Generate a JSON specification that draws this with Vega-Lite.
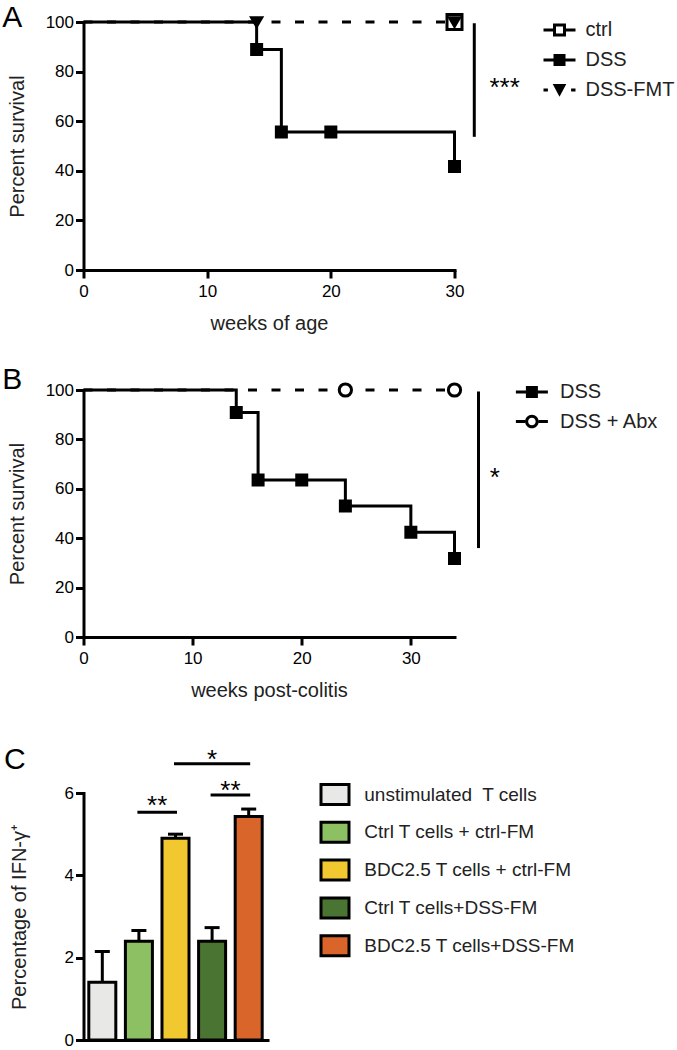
{
  "$schema": "https://vega.github.io/schema/vega-lite/v6.json",
  "padding": {"left": 1.5, "top": 2, "right": 5, "bottom": 5},
  "background": "white",
  "config": {
    "font": "Liberation Sans",
    "view": {"stroke": null},
    "axis": {
      "domainColor": "black", "domainWidth": 3, "domainCap": "square",
      "tickColor": "black", "tickWidth": 3, "tickSize": 8,
      "labelFontSize": 17, "labelColor": "black", "labelFont": "Liberation Sans",
      "labelFlush": false, "labelOverlap": false,
      "titleFontSize": 20, "titleFontWeight": "normal", "titleColor": "#222", "titleFont": "Liberation Sans",
      "grid": false
    },
    "axisX": {"labelPadding": 5, "titlePadding": 14},
    "axisY": {"labelPadding": 2, "titlePadding": 18},
    "legend": {"title": null, "padding": 0, "labelFontSize": 20, "labelColor": "#222", "labelFont": "Liberation Sans", "orient": "none", "labelLimit": 400, "symbolOpacity": 1},
    "title": {"anchor": "start", "frame": "bounds", "fontSize": 30, "fontWeight": "normal", "font": "Liberation Sans", "color": "black", "baseline": "alphabetic", "dx": -5},
    "text": {"font": "Liberation Sans"}
  },
  "resolve": {
    "scale": {"shape": "independent", "fill": "independent", "size": "independent"},
    "legend": {"shape": "independent", "fill": "independent", "size": "independent"}
  },
  "datasets": {
    "survA": [
      {"group": "DSS", "week": 0, "pct": 100},
      {"group": "DSS", "week": 14, "pct": 88.9},
      {"group": "DSS", "week": 16, "pct": 55.6},
      {"group": "DSS", "week": 30, "pct": 41.7},
      {"group": "DSS-FMT", "week": 0, "pct": 100},
      {"group": "DSS-FMT", "week": 30, "pct": 100}
    ],
    "marksA": [
      {"group": "ctrl", "week": 30, "pct": 100},
      {"group": "DSS", "week": 14, "pct": 88.9},
      {"group": "DSS", "week": 16, "pct": 55.6},
      {"group": "DSS", "week": 20, "pct": 55.6},
      {"group": "DSS", "week": 30, "pct": 41.7},
      {"group": "DSS-FMT", "week": 14, "pct": 100},
      {"group": "DSS-FMT", "week": 30, "pct": 100}
    ],
    "sigA": [{"x": 31.6, "top": 99.5, "bottom": 53.7, "label": "***", "tx": 34.05, "ty": 75.9}],
    "survB": [
      {"group": "DSS", "week": 0, "pct": 100},
      {"group": "DSS", "week": 14, "pct": 90.9},
      {"group": "DSS", "week": 16, "pct": 63.6},
      {"group": "DSS", "week": 24, "pct": 53.0},
      {"group": "DSS", "week": 30, "pct": 42.4},
      {"group": "DSS", "week": 34, "pct": 31.8},
      {"group": "DSS + Abx", "week": 0, "pct": 100},
      {"group": "DSS + Abx", "week": 34, "pct": 100}
    ],
    "marksB": [
      {"group": "DSS", "week": 14, "pct": 90.9},
      {"group": "DSS", "week": 16, "pct": 63.6},
      {"group": "DSS", "week": 20, "pct": 63.6},
      {"group": "DSS", "week": 24, "pct": 53.0},
      {"group": "DSS", "week": 30, "pct": 42.4},
      {"group": "DSS", "week": 34, "pct": 31.8},
      {"group": "DSS + Abx", "week": 24, "pct": 100},
      {"group": "DSS + Abx", "week": 34, "pct": 100}
    ],
    "sigB": [{"x": 36.2, "top": 99.4, "bottom": 36.0, "label": "*", "tx": 37.7, "ty": 67.0}],
    "barsC": [
      {"group": "unstimulated\u00a0 T cells", "mean": 1.4, "upper": 2.15},
      {"group": "Ctrl T cells + ctrl-FM", "mean": 2.4, "upper": 2.66},
      {"group": "BDC2.5 T cells + ctrl-FM", "mean": 4.9, "upper": 5.0},
      {"group": "Ctrl T cells+DSS-FM", "mean": 2.4, "upper": 2.73},
      {"group": "BDC2.5 T cells+DSS-FM", "mean": 5.43, "upper": 5.61}
    ],
    "sigC": [
      {"from": "Ctrl T cells + ctrl-FM", "to": "BDC2.5 T cells + ctrl-FM", "level": 5.53},
      {"from": "Ctrl T cells+DSS-FM", "to": "BDC2.5 T cells+DSS-FM", "level": 5.95},
      {"from": "BDC2.5 T cells + ctrl-FM", "to": "BDC2.5 T cells+DSS-FM", "level": 6.71}
    ],
    "starsBetween": [
      {"at": "Ctrl T cells + ctrl-FM", "level": 5.82, "label": "**"},
      {"at": "Ctrl T cells+DSS-FM", "level": 6.2, "label": "**"}
    ],
    "starsCenter": [
      {"at": "Ctrl T cells+DSS-FM", "level": 6.95, "label": "*"}
    ]
  },
  "spacing": 31,
  "vconcat": [
    {
      "width": 371, "height": 248,
      "title": {"text": "A", "offset": -24},
      "layer": [
        {
          "data": {"name": "survA"},
          "transform": [{"filter": "datum.group === 'DSS-FMT'"}],
          "mark": {"type": "line", "interpolate": "step-after", "strokeDash": [9, 14.5], "strokeWidth": 3, "color": "black"},
          "encoding": {
            "x": {"field": "week", "type": "quantitative", "scale": {"domain": [0, 30], "nice": false}, "axis": {"title": "weeks of age", "values": [0, 10, 20, 30]}},
            "y": {"field": "pct", "type": "quantitative", "scale": {"domain": [0, 100], "nice": false}, "axis": {"title": "Percent survival", "values": [0, 20, 40, 60, 80, 100]}}
          }
        },
        {
          "data": {"name": "survA"},
          "transform": [{"filter": "datum.group === 'DSS'"}],
          "mark": {"type": "line", "interpolate": "step-after", "strokeWidth": 3, "color": "black"},
          "encoding": {
            "x": {"field": "week", "type": "quantitative"},
            "y": {"field": "pct", "type": "quantitative"}
          }
        },
        {
          "data": {"name": "marksA"},
          "transform": [{"filter": "datum.group === 'ctrl'"}],
          "mark": {"type": "point", "shape": "square", "filled": true, "fill": "white", "stroke": "black", "strokeWidth": 3, "size": 225, "opacity": 1},
          "encoding": {
            "x": {"field": "week", "type": "quantitative"},
            "y": {"field": "pct", "type": "quantitative"}
          }
        },
        {
          "data": {"name": "marksA"},
          "transform": [{"filter": "datum.group === 'DSS'"}],
          "mark": {"type": "point", "shape": "square", "filled": true, "fill": "black", "stroke": "black", "strokeWidth": 3, "size": 100, "opacity": 1},
          "encoding": {
            "x": {"field": "week", "type": "quantitative"},
            "y": {"field": "pct", "type": "quantitative"}
          }
        },
        {
          "data": {"name": "marksA"},
          "transform": [{"filter": "datum.group === 'DSS-FMT'"}],
          "mark": {"type": "point", "shape": "triangle-down", "filled": true, "fill": "black", "stroke": "black", "strokeWidth": 3, "size": 100, "opacity": 1},
          "encoding": {
            "x": {"field": "week", "type": "quantitative"},
            "y": {"field": "pct", "type": "quantitative"}
          }
        },
        {
          "data": {"name": "marksA"},
          "transform": [{"filter": "datum.week < 0"}],
          "mark": {"type": "point", "filled": true, "color": "black", "strokeWidth": 0, "size": 256, "opacity": 1},
          "encoding": {
            "x": {"field": "week", "type": "quantitative"},
            "y": {"field": "pct", "type": "quantitative"},
            "shape": {"field": "group", "type": "nominal",
              "scale": {"domain": ["ctrl", "DSS", "DSS-FMT"], "range": [
                "M-2,-0.19H-0.81V0.19H-2ZM0.81,-0.19H2V0.19H0.81ZM-0.81,-0.81H0.81V0.81H-0.81ZM-0.44,-0.44V0.44H0.44V-0.44Z",
                "M-2,-0.19H2V0.19H-2ZM-0.75,-0.75H0.75V0.75H-0.75Z",
                "M-2,-0.19H-1.45V0.19H-2ZM1.45,-0.19H2V0.19H1.45ZM-0.85,-0.75H0.85L0,0.85Z"]},
              "legend": {"legendX": 466, "legendY": -2, "symbolSize": 256, "rowPadding": 10, "labelOffset": 16, "symbolFillColor": "black", "symbolStrokeWidth": 0}}
          }
        },
        {
          "data": {"name": "sigA"},
          "mark": {"type": "rule", "strokeWidth": 3, "color": "black"},
          "encoding": {
            "x": {"field": "x", "type": "quantitative"},
            "y": {"field": "top", "type": "quantitative"},
            "y2": {"field": "bottom"}
          }
        },
        {
          "data": {"name": "sigA"},
          "mark": {"type": "text", "fontSize": 26, "baseline": "middle", "align": "center", "dy": 6, "color": "black"},
          "encoding": {
            "x": {"field": "tx", "type": "quantitative"},
            "y": {"field": "ty", "type": "quantitative"},
            "text": {"field": "label"}
          }
        }
      ]
    },
    {
      "width": 371, "height": 247,
      "title": {"text": "B", "offset": -17},
      "layer": [
        {
          "data": {"name": "survB"},
          "transform": [{"filter": "datum.group === 'DSS + Abx'"}],
          "mark": {"type": "line", "interpolate": "step-after", "strokeDash": [9, 14.5], "strokeWidth": 3, "color": "black"},
          "encoding": {
            "x": {"field": "week", "type": "quantitative", "scale": {"domain": [0, 34], "nice": false}, "axis": {"title": "weeks post-colitis", "values": [0, 10, 20, 30]}},
            "y": {"field": "pct", "type": "quantitative", "scale": {"domain": [0, 100], "nice": false}, "axis": {"title": "Percent survival", "values": [0, 20, 40, 60, 80, 100]}}
          }
        },
        {
          "data": {"name": "survB"},
          "transform": [{"filter": "datum.group === 'DSS'"}],
          "mark": {"type": "line", "interpolate": "step-after", "strokeWidth": 3, "color": "black"},
          "encoding": {
            "x": {"field": "week", "type": "quantitative"},
            "y": {"field": "pct", "type": "quantitative"}
          }
        },
        {
          "data": {"name": "marksB"},
          "transform": [{"filter": "datum.group === 'DSS'"}],
          "mark": {"type": "point", "shape": "square", "filled": true, "fill": "black", "stroke": "black", "strokeWidth": 3, "size": 100, "opacity": 1},
          "encoding": {
            "x": {"field": "week", "type": "quantitative"},
            "y": {"field": "pct", "type": "quantitative"}
          }
        },
        {
          "data": {"name": "marksB"},
          "transform": [{"filter": "datum.group === 'DSS + Abx'"}],
          "mark": {"type": "point", "shape": "circle", "filled": true, "fill": "white", "stroke": "black", "strokeWidth": 3, "size": 150, "opacity": 1},
          "encoding": {
            "x": {"field": "week", "type": "quantitative"},
            "y": {"field": "pct", "type": "quantitative"}
          }
        },
        {
          "data": {"name": "marksB"},
          "transform": [{"filter": "datum.week < 0"}],
          "mark": {"type": "point", "filled": true, "color": "black", "strokeWidth": 0, "size": 256, "opacity": 1},
          "encoding": {
            "x": {"field": "week", "type": "quantitative"},
            "y": {"field": "pct", "type": "quantitative"},
            "shape": {"field": "group", "type": "nominal",
              "scale": {"domain": ["DSS", "DSS + Abx"], "range": [
                "M-2,-0.19H2V0.19H-2ZM-0.75,-0.75H0.75V0.75H-0.75Z",
                "M-2,-0.19H-0.85V0.19H-2ZM0.85,-0.19H2V0.19H0.85ZM-0.85,0A0.85,0.85 0 1,1 0.85,0A0.85,0.85 0 1,1 -0.85,0ZM-0.47,0A0.47,0.47 0 1,0 0.47,0A0.47,0.47 0 1,0 -0.47,0Z"]},
              "legend": {"legendX": 438.4, "legendY": -8, "symbolSize": 256, "rowPadding": 9.5, "labelOffset": 18.1, "symbolFillColor": "black", "symbolStrokeWidth": 0}}
          }
        },
        {
          "data": {"name": "sigB"},
          "mark": {"type": "rule", "strokeWidth": 3, "color": "black"},
          "encoding": {
            "x": {"field": "x", "type": "quantitative"},
            "y": {"field": "top", "type": "quantitative"},
            "y2": {"field": "bottom"}
          }
        },
        {
          "data": {"name": "sigB"},
          "mark": {"type": "text", "fontSize": 26, "baseline": "middle", "align": "center", "dy": 6, "color": "black"},
          "encoding": {
            "x": {"field": "tx", "type": "quantitative"},
            "y": {"field": "ty", "type": "quantitative"},
            "text": {"field": "label"}
          }
        }
      ]
    },
    {
      "width": 184, "height": 247,
      "title": {"text": ["", "C"], "lineHeight": 13, "offset": -28},
      "layer": [
        {
          "data": {"name": "barsC"},
          "mark": {"type": "bar", "stroke": "black", "strokeWidth": 3, "opacity": 1},
          "encoding": {
            "x": {"field": "group", "type": "nominal", "sort": null,
              "scale": {"domain": ["unstimulated\u00a0 T cells", "Ctrl T cells + ctrl-FM", "BDC2.5 T cells + ctrl-FM", "Ctrl T cells+DSS-FM", "BDC2.5 T cells+DSS-FM"], "paddingInner": 0.262, "paddingOuter": 0.145},
              "axis": {"title": null, "labels": false, "ticks": false}},
            "y": {"field": "mean", "type": "quantitative", "scale": {"domain": [0, 6], "nice": false},
              "axis": {"title": "Percentage of IFN-γ⁺", "values": [0, 2, 4, 6], "titlePadding": 35}},
            "fill": {"field": "group", "type": "nominal",
              "scale": {"domain": ["unstimulated\u00a0 T cells", "Ctrl T cells + ctrl-FM", "BDC2.5 T cells + ctrl-FM", "Ctrl T cells+DSS-FM", "BDC2.5 T cells+DSS-FM"],
                "range": ["#e8e8e6", "#8cc063", "#f2c830", "#4a7432", "#d9652b"]},
              "legend": {
                "legendX": 240, "legendY": -10, "symbolSize": 400, "rowPadding": 4.8, "labelOffset": 17.8, "labelFontSize": 19,
                "symbolType": "M-1.4,-1H1.4V1H-1.4Z", "symbolStrokeColor": "black", "symbolStrokeWidth": 3, "symbolOpacity": 1
              }}
          }
        },
        {
          "data": {"name": "barsC"},
          "mark": {"type": "rule", "strokeWidth": 3, "color": "black"},
          "encoding": {
            "x": {"field": "group", "type": "nominal"},
            "y": {"field": "mean", "type": "quantitative"},
            "y2": {"field": "upper"}
          }
        },
        {
          "data": {"name": "barsC"},
          "mark": {"type": "tick", "orient": "horizontal", "size": 15, "thickness": 3, "color": "black", "opacity": 1},
          "encoding": {
            "x": {"field": "group", "type": "nominal"},
            "y": {"field": "upper", "type": "quantitative"}
          }
        },
        {
          "data": {"name": "sigC"},
          "mark": {"type": "rule", "strokeWidth": 3, "color": "black", "strokeCap": "square"},
          "encoding": {
            "x": {"field": "from", "type": "nominal"},
            "x2": {"field": "to"},
            "y": {"field": "level", "type": "quantitative"}
          }
        },
        {
          "data": {"name": "starsBetween"},
          "mark": {"type": "text", "fontSize": 26, "baseline": "middle", "align": "center", "dy": 6, "color": "black"},
          "encoding": {
            "x": {"field": "at", "type": "nominal", "bandPosition": 1.178},
            "y": {"field": "level", "type": "quantitative"},
            "text": {"field": "label"}
          }
        },
        {
          "data": {"name": "starsCenter"},
          "mark": {"type": "text", "fontSize": 26, "baseline": "middle", "align": "center", "dy": 6, "color": "black"},
          "encoding": {
            "x": {"field": "at", "type": "nominal", "bandPosition": 0.5},
            "y": {"field": "level", "type": "quantitative"},
            "text": {"field": "label"}
          }
        }
      ]
    }
  ]
}
